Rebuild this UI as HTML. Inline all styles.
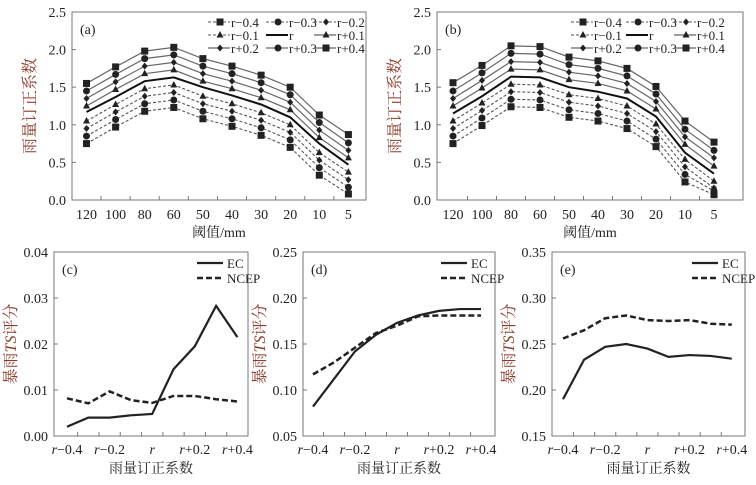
<!DOCTYPE html>
<html><head><meta charset="utf-8"><style>
body{margin:0;background:#fff;}
svg text{font-family:"Liberation Serif","Noto Serif CJK SC",serif;}
</style></head><body>
<svg id="s" width="756" height="480" viewBox="0 0 756 480"></svg>
<script>
const thresholds=["120","100","80","60","50","40","30","20","10","5"];
const seriesNames=["r\u22120.4","r\u22120.3","r\u22120.2","r\u22120.1","r","r+0.1","r+0.2","r+0.3","r+0.4"];
const aValues=[
[0.75,0.97,1.18,1.23,1.08,0.98,0.86,0.70,0.33,0.08],
[0.85,1.07,1.28,1.33,1.18,1.08,0.96,0.80,0.43,0.17],
[0.95,1.17,1.38,1.43,1.28,1.18,1.06,0.90,0.53,0.27],
[1.05,1.27,1.48,1.53,1.38,1.28,1.16,1.00,0.63,0.37],
[1.17,1.37,1.58,1.63,1.50,1.39,1.27,1.10,0.75,0.47],
[1.25,1.47,1.68,1.73,1.58,1.48,1.36,1.20,0.83,0.56],
[1.35,1.57,1.78,1.83,1.68,1.58,1.46,1.30,0.93,0.66],
[1.45,1.67,1.88,1.93,1.78,1.68,1.56,1.40,1.03,0.76],
[1.55,1.77,1.98,2.03,1.88,1.78,1.66,1.50,1.13,0.87]];
const bValues=[
[0.75,0.99,1.24,1.23,1.10,1.05,0.95,0.71,0.24,0.07],
[0.85,1.09,1.34,1.33,1.20,1.15,1.05,0.81,0.34,0.12],
[0.95,1.19,1.44,1.43,1.30,1.25,1.15,0.91,0.44,0.16],
[1.05,1.29,1.54,1.53,1.40,1.35,1.25,1.01,0.54,0.25],
[1.15,1.38,1.64,1.63,1.50,1.44,1.35,1.11,0.63,0.35],
[1.25,1.49,1.74,1.73,1.60,1.55,1.45,1.21,0.74,0.45],
[1.35,1.59,1.84,1.83,1.70,1.65,1.55,1.31,0.84,0.56],
[1.45,1.69,1.95,1.94,1.80,1.75,1.65,1.41,0.94,0.66],
[1.56,1.79,2.05,2.04,1.90,1.85,1.75,1.51,1.05,0.77]];
const abTicks=[0,0.5,1.0,1.5,2.0,2.5];
const coefLabels=["r\u22120.4","","r\u22120.2","","r","","r+0.2","","r+0.4"];
const cEC=[0.002,0.004,0.004,0.0045,0.0048,0.0145,0.0195,0.0283,0.0215];
const cNCEP=[0.0082,0.0071,0.0097,0.0078,0.0072,0.0087,0.0087,0.0080,0.0075];
const cTicks=[0,0.01,0.02,0.03,0.04];
const dEC=[0.082,0.112,0.142,0.160,0.173,0.181,0.186,0.188,0.188];
const dNCEP=[0.117,0.130,0.146,0.162,0.170,0.180,0.181,0.181,0.181];
const dTicks=[0.05,0.10,0.15,0.20,0.25];
const eEC=[0.190,0.233,0.247,0.250,0.245,0.236,0.238,0.237,0.234];
const eNCEP=[0.256,0.265,0.278,0.281,0.276,0.275,0.276,0.272,0.271];
const eTicks=[0.15,0.20,0.25,0.30,0.35];

const NS="http://www.w3.org/2000/svg",S=document.getElementById('s');
function el(t,a,p){const e=document.createElementNS(NS,t);for(const k in a)e.setAttribute(k,a[k]);(p||S).appendChild(e);return e;}
function txt(x,y,s,a,p){const e=el('text',Object.assign({x:x,y:y},a),p);e.textContent=s;return e;}
function marker(g,kind,x,y){
  if(kind==0)el('rect',{x:x-3.5,y:y-3.5,width:7,height:7,fill:'#222'},g);
  else if(kind==1)el('circle',{cx:x,cy:y,r:3.5,fill:'#222'},g);
  else if(kind==2)el('path',{d:`M${x} ${y-3.5}L${x+3} ${y}L${x} ${y+3.5}L${x-3} ${y}Z`,fill:'#222'},g);
  else if(kind==3)el('path',{d:`M${x} ${y-4}L${x+3.5} ${y+2.5}L${x-3.5} ${y+2.5}Z`,fill:'#222'},g);
}
const kinds=[0,1,2,3,-1,3,2,1,0];
function frame(g,L,R,T,B){el('rect',{x:L,y:T,width:R-L,height:B-T,fill:'none',stroke:'#777','stroke-width':1},g);}
function yaxis(g,L,T,B,ticks,fmt,tx){
  const mn=ticks[0],mx=ticks[ticks.length-1];
  const Y=v=>B-(v-mn)/(mx-mn)*(B-T);
  ticks.forEach(v=>{const y=Y(v);
    const t=el('line',{x1:L,x2:L+4,y1:y,y2:y,stroke:'#777'},g);
    
    const l=txt(L-6,y+5,v.toFixed(fmt),{'font-size':14,'text-anchor':'end',fill:'#222'},g);
    });
  const yt=txt(0,0,'',{transform:`translate(${tx},${(T+B)/2}) rotate(-90)`,'font-size':16,'text-anchor':'middle',fill:'#8b3a2a'},g);
  
  return [Y,yt];
}
function panelAB(id,L,R,c0,step,vals,letter,legX){
  const g=el('g',{});
  const T=12,B=200;frame(g,L,R,T,B);
  const [Y,yt]=yaxis(g,L,T,B,abTicks,1,L-37);yt.textContent='雨量订正系数';
  const X=i=>c0+i*step;
  thresholds.forEach((t,i)=>{
    if(i>0){const tk=el('line',{x1:X(i)-step/2,x2:X(i)-step/2,y1:B,y2:B-4,stroke:'#777'},g);}
    const l=txt(X(i),B+19,t,{'font-size':14,'text-anchor':'middle',fill:'#222'},g);
    });
  const xt=txt((L+R)/2,B+37,'阈值/mm',{'font-size':14,'text-anchor':'middle',fill:'#222'},g);
  
  txt(L+8,T+22,letter,{'font-size':14,fill:'#222'},g);
  vals.forEach((row,k)=>{
    const sg=el('g',{},g);
    
    
    const d=row.map((v,i)=>(i?'L':'M')+X(i)+' '+Y(v)).join('');
    const st=k<4?{stroke:'#555','stroke-width':1.1,'stroke-dasharray':'3,2'}:k==4?{stroke:'#111','stroke-width':2}:{stroke:'#666','stroke-width':1.2};
    el('path',Object.assign({d:d,fill:'none'},st),sg);
    if(kinds[k]>=0)row.forEach((v,i)=>marker(sg,kinds[k],X(i),Y(v)));
  });
  const lg=el('g',{},g);
  seriesNames.forEach((n,k)=>{
    const cx=legX[k%3],cy=22+Math.floor(k/3)*13;
    const st=k<4?{stroke:'#555','stroke-width':1.1,'stroke-dasharray':'3,2'}:k==4?{stroke:'#111','stroke-width':2}:{stroke:'#666','stroke-width':1.2};
    el('line',Object.assign({x1:cx-12,x2:cx+10,y1:cy,y2:cy},st),lg);
    if(kinds[k]>=0)marker(lg,kinds[k],cx,cy);
    const lt=txt(cx+11,cy+5,n,{'font-size':13,fill:'#222'},lg);
    
  });
}
panelAB('a',72,366,86.5,29.1,aValues,'(a)',[220,278,326]);
panelAB('b',437,743,453,29,bValues,'(b)',[583,638,686]);
function panelTS(id,L,R,p0,step,ticks,dec,ec,nc,letter,legX){
  const g=el('g',{});
  const T=252,B=436;frame(g,L,R,T,B);
  const [Y,yt]=yaxis(g,L,T,B,ticks,dec,L-38);
  yt.appendChild(document.createTextNode('暴雨'));
  const it=el('tspan',{'font-style':'italic'},yt);it.textContent='TS';
  yt.appendChild(document.createTextNode('评分'));
  const X=i=>p0+i*step;
  coefLabels.forEach((t,i)=>{
    if(i>0){const tk=el('line',{x1:X(i)-step/2,x2:X(i)-step/2,y1:B,y2:B-4,stroke:'#777'},g);}
    if(t){const l=txt(X(i),B+18,'',{'font-size':14,'text-anchor':'middle',fill:'#222'},g);
      const r=el('tspan',{'font-style':'italic'},l);r.textContent='r';
      if(t.length>1)l.appendChild(document.createTextNode(t.slice(1)));
      }
  });
  const xt=txt((L+R)/2,B+37,'雨量订正系数',{'font-size':14,'text-anchor':'middle',fill:'#222'},g);
  
  txt(L+8,T+22,letter,{'font-size':14,fill:'#222'},g);
  const e1=el('path',{d:ec.map((v,i)=>(i?'L':'M')+X(i)+' '+Y(v)).join(''),fill:'none',stroke:'#222','stroke-width':2.2},g);
  
  const n1=el('path',{d:nc.map((v,i)=>(i?'L':'M')+X(i)+' '+Y(v)).join(''),fill:'none',stroke:'#222','stroke-width':2.5,'stroke-dasharray':'6,3'},g);
  
  const lg=el('g',{},g);
  el('line',{x1:legX,x2:legX+26,y1:263,y2:263,stroke:'#222','stroke-width':2.2},lg);
  txt(legX+30,268,'EC',{'font-size':13,fill:'#222'},lg);
  el('line',{x1:legX,x2:legX+26,y1:278,y2:278,stroke:'#222','stroke-width':2.5,'stroke-dasharray':'6,3'},lg);
  txt(legX+30,283,'NCEP',{'font-size':13,fill:'#222'},lg);
}
panelTS('c',54,248,67,21.3,cTicks,2,cEC,cNCEP,'(c)',197);
panelTS('d',303,495,313,21,dTicks,2,dEC,dNCEP,'(d)',441);
panelTS('e',552,745,563,21.1,eTicks,2,eEC,eNCEP,'(e)',692);
</script>
</body></html>
